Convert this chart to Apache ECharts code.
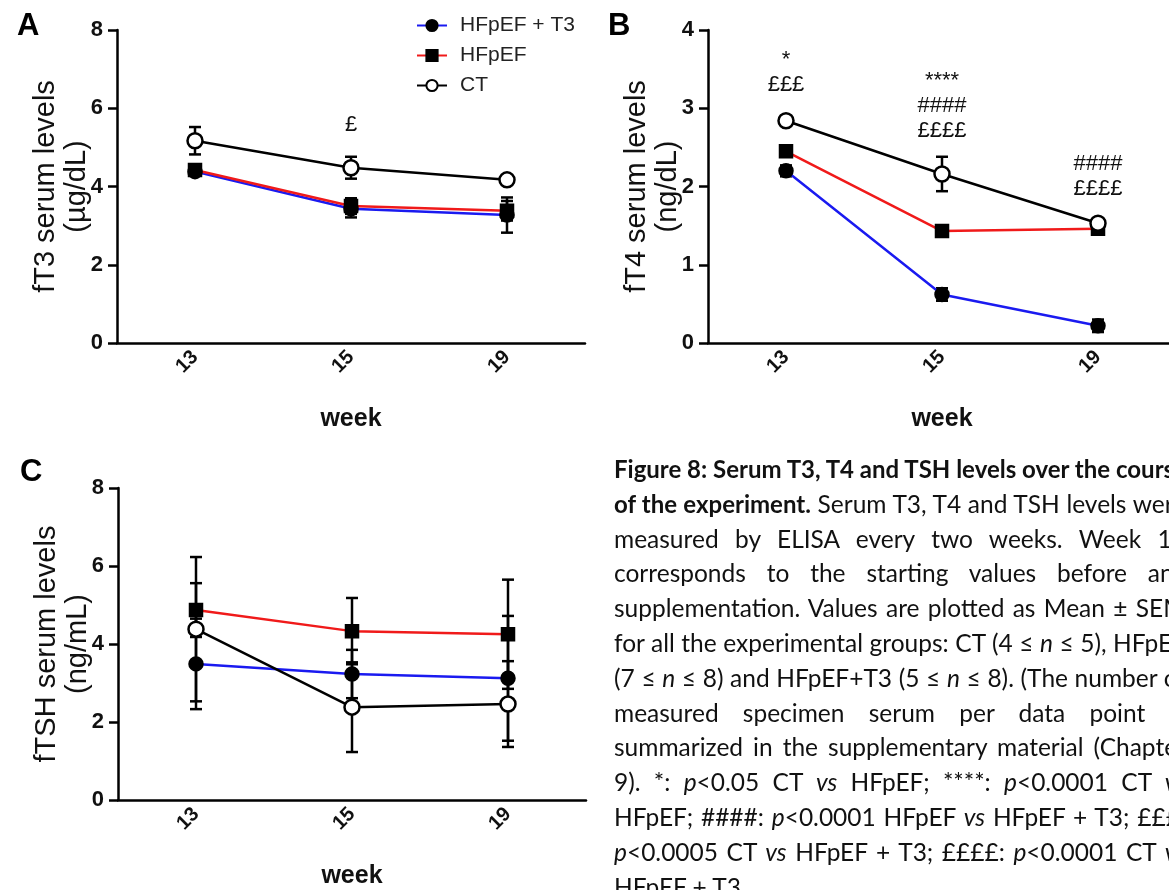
<!DOCTYPE html>
<html>
<head>
<meta charset="utf-8">
<script src="https://cdn.jsdelivr.net/npm/echarts/dist/echarts.min.js"></script>
<style>
  html, body { margin:0; padding:0; background:#fff; overflow:hidden; width:1169px; height:890px; }
  #chart { position:absolute; left:0; top:0; width:1169px; height:890px; }
  #cap { position:absolute; left:614px; top:452px; width:572px; font-family:Lato, "Noto Sans", sans-serif; font-size:24.5px; line-height:34.8px; color:#111; z-index:5; }
  #cap b { font-size:24px; }
  #cap .l { white-space:nowrap; text-align:justify; text-align-last:justify; }
  #cap .first { width:557px; }
  #cap .last { text-align:left; text-align-last:left; }
</style>
</head>
<body>
<div id="chart"></div>
<div id="cap">
  <div class="l first"><b>Figure 8: Serum T3, T4 and TSH levels over the course</b></div>
  <div class="l"><b>of the experiment.</b> Serum T3, T4 and TSH levels were</div>
  <div class="l">measured by ELISA every two weeks. Week 13</div>
  <div class="l">corresponds to the starting values before any</div>
  <div class="l">supplementation. Values are plotted as Mean ± SEM</div>
  <div class="l">for all the experimental groups: CT (4 ≤ <i>n</i> ≤ 5), HFpEF</div>
  <div class="l">(7 ≤ <i>n</i> ≤ 8) and HFpEF+T3 (5 ≤ <i>n</i> ≤ 8). (The number of</div>
  <div class="l">measured specimen serum per data point is</div>
  <div class="l">summarized in the supplementary material (Chapter</div>
  <div class="l">9). *: <i>p</i>&lt;0.05 CT <i>vs</i> HFpEF; ****: <i>p</i>&lt;0.0001 CT <i>vs</i></div>
  <div class="l">HFpEF; ####: <i>p</i>&lt;0.0001 HFpEF <i>vs</i> HFpEF + T3; £££:</div>
  <div class="l"><i>p</i>&lt;0.0005 CT <i>vs</i> HFpEF + T3; ££££: <i>p</i>&lt;0.0001 CT <i>vs</i></div>
  <div class="l last">HFpEF + T3.</div>
</div>
<script>
// ---------- data ----------
const weeks = ['13', '15', '19'];
const groups = ['HFpEF + T3', 'HFpEF', 'CT'];

// Panel A: fT3 (µg/dL)
const ft3_T3      = [4.38, 3.43, 3.27];
const ft3_T3_se   = [0.10, 0.22, 0.45];
const ft3_HF      = [4.42, 3.50, 3.38];
const ft3_HF_se   = [0.12, 0.20, 0.25];
const ft3_CT      = [5.17, 4.48, 4.17];
const ft3_CT_se   = [0.35, 0.28, 0.10];

// Panel B: fT4 (ng/dL)
const ft4_T3      = [2.20, 0.62, 0.22];
const ft4_T3_se   = [0.07, 0.08, 0.08];
const ft4_HF      = [2.45, 1.43, 1.46];
const ft4_HF_se   = [0.07, 0.05, 0.04];
const ft4_CT      = [2.84, 2.16, 1.53];
const ft4_CT_se   = [0.05, 0.22, 0.04];

// Panel C: fTSH (ng/mL)
const tsh_T3      = [3.49, 3.23, 3.12];
const tsh_T3_se   = [1.16, 0.62, 1.60];
const tsh_HF      = [4.87, 4.33, 4.25];
const tsh_HF_se   = [0.69, 0.85, 1.40];
const tsh_CT      = [4.38, 2.38, 2.46];
const tsh_CT_se   = [1.85, 1.15, 1.10];

// significance annotations
const annotA_week = ['15'];
const annotA_y    = [5.57];
const annotA_text = ['£'];
const annotB_week = ['13', '15', '19'];
const annotB_y    = [3.46, 3.03, 2.13];
const annotB_text = ['*\n£££', '****\n####\n££££', '####\n££££'];

// y-axis ticks [min, max, step]
const yTicksA = [0, 8, 2];
const yTicksB = [0, 4, 1];
const yTicksC = [0, 8, 2];

// ---------- styles ----------
const FONT = '"Liberation Sans", Arial, sans-serif';
const styles = {
  'HFpEF + T3': { line: '#1a1af0', symbol: 'circle', fill: '#000', border: '#000', size: 13 },
  'HFpEF':      { line: '#f01a1a', symbol: 'rect',   fill: '#000', border: '#000', size: 12 },
  'CT':         { line: '#000',    symbol: 'circle', fill: '#fff', border: '#000', size: 15 }
};

const panels = [
  { name: 'fT3 serum levels\n(µg/dL)', ticks: yTicksA, T3: [ft3_T3, ft3_T3_se], HF: [ft3_HF, ft3_HF_se], CT: [ft3_CT, ft3_CT_se], grid: { left: 117, top: 30, width: 468, height: 313 } },
  { name: 'fT4 serum levels\n(ng/dL)',  ticks: yTicksB, T3: [ft4_T3, ft4_T3_se], HF: [ft4_HF, ft4_HF_se], CT: [ft4_CT, ft4_CT_se], grid: { left: 708, top: 30, width: 468, height: 313 } },
  { name: 'fTSH serum levels\n(ng/mL)', ticks: yTicksC, T3: [tsh_T3, tsh_T3_se], HF: [tsh_HF, tsh_HF_se], CT: [tsh_CT, tsh_CT_se], grid: { left: 118, top: 488, width: 468, height: 312 } }
];

const grid = [], xAxis = [], yAxis = [], series = [];

panels.forEach((p, i) => {
  grid.push(Object.assign({ outerBoundsMode: 'none', containLabel: false }, p.grid));
  xAxis.push({
    gridIndex: i, type: 'category', data: weeks, boundaryGap: true,
    axisLine: { lineStyle: { color: '#000', width: 2.5 } },
    axisTick: { alignWithLabel: true, length: 8, lineStyle: { color: '#000', width: 2.5 } },
    axisLabel: { rotate: 45, margin: 11, fontFamily: FONT, fontWeight: 'bold', fontSize: 20, color: '#111' },
    splitLine: { show: false },
    name: 'week', nameLocation: 'middle', nameGap: 64, nameMoveOverlap: false,
    nameTextStyle: { fontFamily: FONT, fontWeight: 'bold', fontSize: 25, color: '#111' }
  });
  yAxis.push({
    gridIndex: i, type: 'value', min: p.ticks[0], max: p.ticks[1], interval: p.ticks[2],
    axisLine: { show: true, lineStyle: { color: '#000', width: 2.5 } },
    axisTick: { show: true, length: 9, lineStyle: { color: '#000', width: 2.5 } },
    axisLabel: { margin: 14, fontFamily: FONT, fontWeight: 'bold', fontSize: 22, color: '#111' },
    splitLine: { show: false },
    name: p.name, nameLocation: 'middle', nameGap: 25, nameRotate: 90, nameMoveOverlap: false,
    nameTextStyle: { fontFamily: FONT, fontSize: 29, lineHeight: 31, color: '#111', align: 'center' }
  });

  [['HFpEF + T3', p.T3], ['HFpEF', p.HF], ['CT', p.CT]].forEach(([g, d]) => {
    series.push({
      name: 'err-' + g + '-' + i, type: 'custom', xAxisIndex: i, yAxisIndex: i, z: 2,
      data: weeks.map((w, k) => [k, d[0][k], d[1][k]]),
      encode: { x: 0, y: 1 },
      renderItem: function (params, api) {
        const x = api.value(0), m = api.value(1), e = api.value(2);
        const top = api.coord([x, m + e]), bot = api.coord([x, m - e]);
        const w = 6;
        const st = { stroke: '#000', lineWidth: 2.5 };
        return { type: 'group', children: [
          { type: 'line', shape: { x1: top[0], y1: top[1], x2: bot[0], y2: bot[1] }, style: st },
          { type: 'line', shape: { x1: top[0] - w, y1: top[1], x2: top[0] + w, y2: top[1] }, style: st },
          { type: 'line', shape: { x1: bot[0] - w, y1: bot[1], x2: bot[0] + w, y2: bot[1] }, style: st }
        ]};
      }
    });
  });
  [['HFpEF + T3', p.T3], ['HFpEF', p.HF], ['CT', p.CT]].forEach(([g, d]) => {
    const s = styles[g];
    series.push({
      name: g, type: 'line', xAxisIndex: i, yAxisIndex: i, z: 3,
      data: d[0], symbol: s.symbol, symbolSize: s.size, showAllSymbol: true,
      lineStyle: { color: s.line, width: 2.5 },
      itemStyle: { color: s.fill, borderColor: s.border, borderWidth: 2.5 },
      emphasis: { disabled: true }, animation: false
    });
  });
});

function annotSeries(idx, wk, ys, texts) {
  return {
    name: 'annot-' + idx, type: 'custom', xAxisIndex: idx, yAxisIndex: idx, z: 5,
    data: wk.map((w, k) => [weeks.indexOf(w), ys[k]]),
    encode: { x: 0, y: 1 },
    renderItem: function (params, api) {
      const c = api.coord([api.value(0), api.value(1)]);
      return { type: 'text', x: c[0], y: c[1], style: {
        text: texts[params.dataIndex], fill: '#111',
        font: '22px ' + FONT, lineHeight: 25, align: 'center', verticalAlign: 'middle'
      }};
    }
  };
}
series.push(annotSeries(0, annotA_week, annotA_y, annotA_text));
series.push(annotSeries(1, annotB_week, annotB_y, annotB_text));

const option = {
  backgroundColor: '#fff',
  animation: false,
  grid, xAxis, yAxis, series,
  legend: {
    data: groups, orient: 'vertical', left: 411, top: 10,
    itemWidth: 30, itemHeight: 14, itemGap: 9,
    textStyle: { fontFamily: FONT, fontSize: 21, color: '#222', padding: [0, 0, 0, 8] },
    selectedMode: false
  },
  graphic: [
    { type: 'text', left: 17, top: 11, style: { text: 'A', font: 'bold 31px ' + FONT, fill: '#000' } },
    { type: 'text', left: 608, top: 11, style: { text: 'B', font: 'bold 31px ' + FONT, fill: '#000' } },
    { type: 'text', left: 20, top: 457, style: { text: 'C', font: 'bold 31px ' + FONT, fill: '#000' } }
  ]
};

const chart = echarts.init(document.getElementById('chart'), null, { renderer: 'canvas' });
chart.setOption(option);
</script>
</body>
</html>
